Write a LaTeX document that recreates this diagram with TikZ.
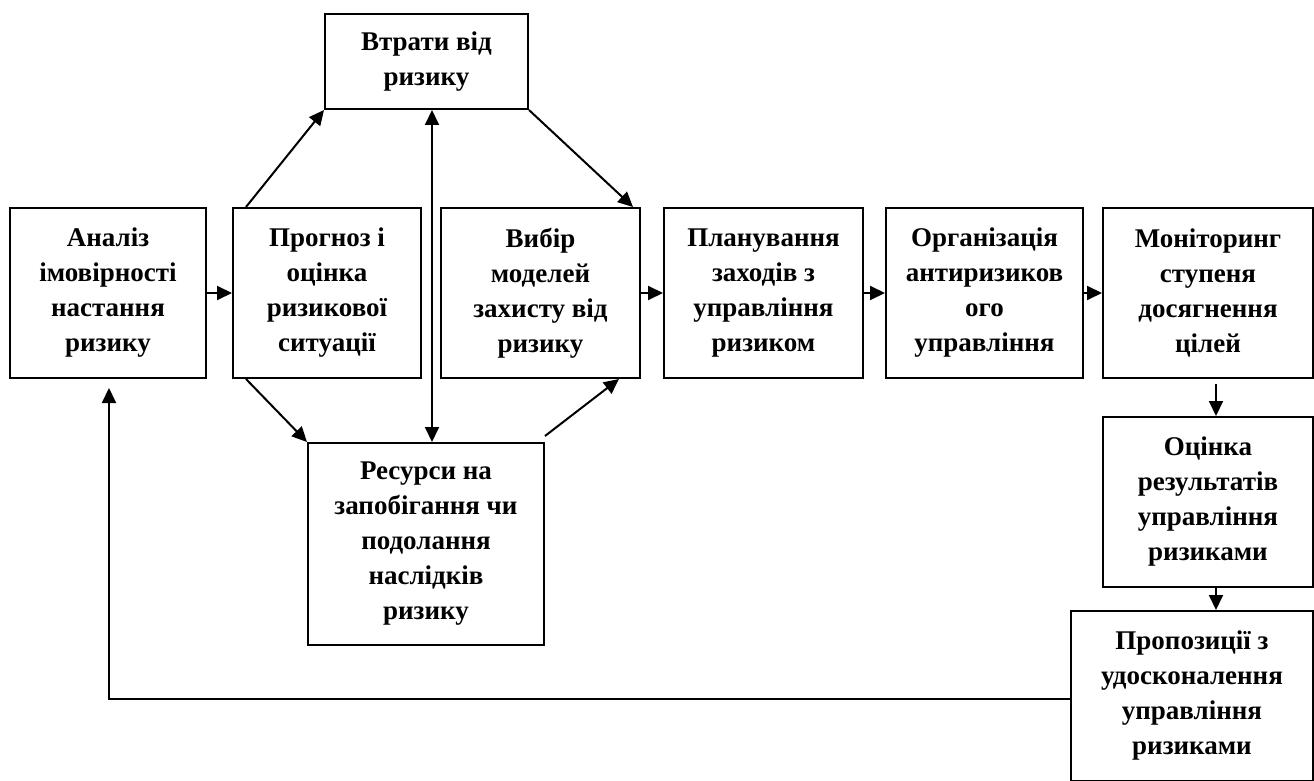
\documentclass[tikz,border=0pt]{standalone}
\usepackage{fontspec}
\setmainfont{Liberation Serif}
\usetikzlibrary{arrows.meta}
\tikzset{
  blok/.style={draw, line width=1pt, align=center, inner sep=0pt,
    font=\fontsize{13.5}{17.5}\selectfont\bfseries},
  strilka/.style={line width=1pt, -{Triangle[length=7.5pt,width=7pt]}},
  dvistrilka/.style={line width=1pt, {Triangle[length=7.5pt,width=7pt]}-{Triangle[length=7.5pt,width=7pt]}}
}
\begin{document}
\begin{tikzpicture}[x=0.5pt,y=-0.5pt]
\useasboundingbox (0,0) rectangle (1314,781);
\clip (0,0) rectangle (1314,781);
% main row
\node[blok, minimum width=98pt, minimum height=85pt] (analiz) at (108,293) {Аналіз\\імовірності\\настання\\ризику};
\node[blok, minimum width=94pt, minimum height=85pt] (prognoz) at (327,293) {Прогноз і\\оцінка\\ризикової\\ситуації};
\node[blok, minimum width=99.5pt, minimum height=85pt] (vybir) at (540.5,293) {Вибір\\моделей\\захисту від\\ризику};
\node[blok, minimum width=99.5pt, minimum height=85pt] (plan) at (763.5,293) {Планування\\заходів з\\управління\\ризиком};
\node[blok, minimum width=98.5pt, minimum height=85pt] (org) at (984.5,293) {Організація\\антиризиков\\ого\\управління};
\node[blok, minimum width=105pt, minimum height=85pt] (monit) at (1208,293) {Моніторинг\\ступеня\\досягнення\\цілей};
% upper and lower boxes
\node[blok, minimum width=101.5pt, minimum height=47.5pt] (vtraty) at (426.5,61.5) {Втрати від\\ризику};
\node[blok, minimum width=118pt, minimum height=101pt] (resursy) at (426,544) {Ресурси на\\запобігання чи\\подолання\\наслідків\\ризику};
% right column
\node[blok, minimum width=105pt, minimum height=85pt] (ocinka) at (1208,502) {Оцінка\\результатів\\управління\\ризиками};
\node[blok, minimum width=121pt, minimum height=85pt] (propoz) at (1192,696) {Пропозиції з\\удосконалення\\управління\\ризиками};
% arrows
\foreach \a/\b in {analiz/prognoz, vybir/plan, plan/org, org/monit}
  \draw[strilka] (\a) -- (\b);
\draw[strilka] ([xshift=7pt]prognoz.north west) -- (vtraty.south west);
\draw[strilka] (vtraty.south east) -- ([xshift=-4pt]vybir.north east);
\draw[strilka] ([xshift=7pt]prognoz.south west) -- (resursy.north west);
\draw[strilka] ([yshift=3pt]resursy.north east) -- ([xshift=-11pt]vybir.south east);
\draw[dvistrilka] ([xshift=3pt]resursy.north) -- ([xshift=3pt]resursy.north |- vtraty.south);
\draw[strilka] ([xshift=4pt,yshift=-2.5pt]monit.south) -- ([xshift=4pt]ocinka.north);
\draw[strilka] ([xshift=4pt]ocinka.south) -- ([xshift=4pt]ocinka.south |- propoz.north);
% feedback
\draw[strilka] ([yshift=-1.5pt]propoz.west) -| ([xshift=0.5pt,yshift=-4.5pt]analiz.south);
\end{tikzpicture}
\end{document}
